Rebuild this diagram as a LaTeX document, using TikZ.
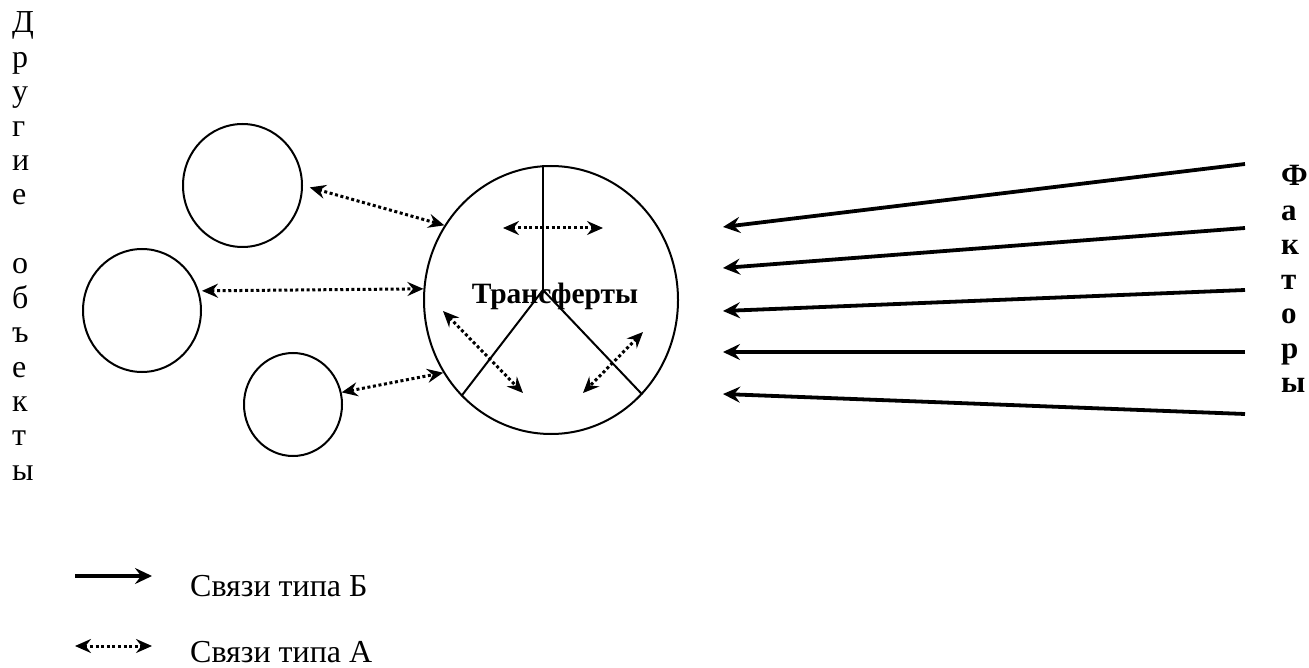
\documentclass[tikz,border=0pt]{standalone}
\usepackage{fontspec}
\setmainfont{Liberation Serif}
\usetikzlibrary{arrows.meta,shapes.geometric}
\begin{document}
\begin{tikzpicture}[x=1pt,y=-1pt,
  obj/.style={draw, ellipse, line width=2pt, inner sep=0pt},
  solidarr/.style={line width=3.8pt, -{Stealth[length=17pt,width=16pt,inset=6pt]}},
  dotarr/.style={line width=3pt, dash pattern=on 3pt off 2.6pt,
     {Stealth[length=16pt,width=14pt,inset=5.5pt]}-{Stealth[length=16pt,width=14pt,inset=5.5pt]}},
  divline/.style={line width=2pt},
  lbl/.style={inner sep=0pt, font=\fontsize{32}{34.4}\selectfont},
  blbl/.style={inner sep=0pt, font=\fontsize{31}{34.4}\selectfont\bfseries}]
\useasboundingbox (0,0) rectangle (1309,668);

% objects
\node[obj, minimum width=119pt, minimum height=123pt] (c1) at (242.5,185.5) {};
\node[obj, minimum width=118pt, minimum height=123pt] (c2) at (142,310.5) {};
\node[obj, minimum width=98pt, minimum height=103pt] (c3) at (293,404.5) {};
\node[obj, minimum width=254pt, minimum height=268pt] (main) at (551,300) {};

% dividers inside the main circle
\coordinate (hub) at (543,290);
\draw[divline] (hub |- main.north) -- (hub);
\draw[divline] (hub) -- (main.227);
\draw[divline] (hub) -- (main.314);

\node[inner sep=0pt, font=\fontsize{29.5}{34.4}\selectfont\bfseries, anchor=base] (tr) at (555,304) {Трансферты};

% inner type-A links
\coordinate (i1a) at (503,228); \coordinate (i1b) at (603,228);
\coordinate (i2a) at (443,311); \coordinate (i2b) at (523,393);
\coordinate (i3a) at (643,332); \coordinate (i3b) at (583,393);
\draw[dotarr] (i1a) -- (i1b);
\draw[dotarr] (i2a) -- (i2b);
\draw[dotarr] (i3a) -- (i3b);

% links to other objects
\draw[dotarr, shorten <=7pt] (c1.east) -- (main.145);
\draw[dotarr, shorten <=3pt] (c2.19) -- (main.175.5);
\draw[dotarr] (c3.14) -- (main.214);

% factors
\coordinate (f1s) at (1245,164); \coordinate (f1e) at (723,227);
\coordinate (f2s) at (1245,228); \coordinate (f2e) at (723,268);
\coordinate (f3s) at (1245,290); \coordinate (f3e) at (723,311);
\coordinate (f4s) at (1245,352); \coordinate (f4e) at (723,352);
\coordinate (f5s) at (1245,414); \coordinate (f5e) at (723,394);
\foreach \k in {1,...,5} \draw[solidarr] (f\k s) -- (f\k e);

% vertical captions
\foreach \k/\ch in {0/Д,1/р,2/у,3/г,4/и,5/е,7/о,8/б,9/ъ,10/е,11/к,12/т,13/ы}
  \node[lbl, anchor=base west] (do\k) at (12,{33+34.4*\k}) {\ch};
\foreach \k/\ch in {0/Ф,1/а,2/к,3/т,4/о,5/р,6/ы}
  \node[blbl, anchor=base west] (fa\k) at (1281,{186+34.4*\k}) {\ch};

% legend
\coordinate (lb1) at (75,576); \coordinate (lb2) at (152,576);
\coordinate (la1) at (75,646); \coordinate (la2) at (152,646);
\draw[solidarr] (lb1) -- (lb2);
\draw[dotarr] (la1) -- (la2);
\node[lbl, anchor=base west] (legb) at (190,596) {Связи типа Б};
\node[lbl, anchor=base west, text depth=0pt] (lega) at (190,662) {Связи типа А};
\end{tikzpicture}
\end{document}
